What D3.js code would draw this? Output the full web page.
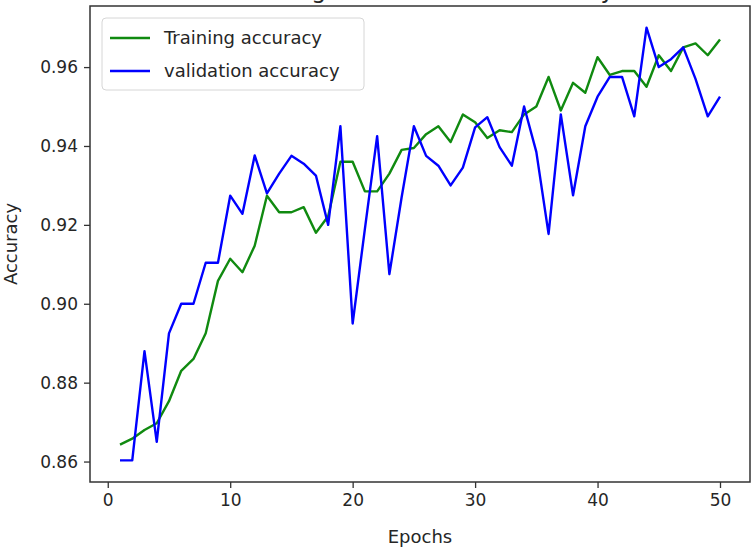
<!DOCTYPE html>
<html lang="en">
    <head>
        <meta charset="utf-8">
        <title>Training and validation accuracy</title>
        <script src="https://d3js.org/d3.v7.min.js"></script>
        <style type="text/css">
            body { margin: 0; background: white; }
            svg text { font-family: "DejaVu Sans", sans-serif; fill: #262626; }
        </style>
    </head>
    <body>
        <svg width="753" height="553"></svg>
        <script type="text/javascript">

            const epochs = d3.range(1, 51);
            const trainAcc = [0.8643, 0.8658, 0.8680, 0.8697, 0.8753, 0.8830, 0.8860, 0.8925, 0.9058, 0.9114,
                              0.9080, 0.9147, 0.9274, 0.9232, 0.9232, 0.9245, 0.9180, 0.9222, 0.9360, 0.9360,
                              0.9285, 0.9285, 0.9330, 0.9390, 0.9395, 0.9430, 0.9450, 0.9410, 0.9480, 0.9460,
                              0.9420, 0.9440, 0.9435, 0.9480, 0.9500, 0.9575, 0.9490, 0.9560, 0.9535, 0.9625,
                              0.9580, 0.9590, 0.9590, 0.9550, 0.9630, 0.9590, 0.9650, 0.9660, 0.9630, 0.9670];
            const valAcc = [0.8603, 0.8603, 0.8880, 0.8650, 0.8925, 0.9000, 0.9000, 0.9104, 0.9104, 0.9274,
                            0.9228, 0.9376, 0.9280, 0.9330, 0.9375, 0.9355, 0.9325, 0.9200, 0.9450, 0.8950,
                            0.9190, 0.9425, 0.9075, 0.9270, 0.9450, 0.9375, 0.9350, 0.9300, 0.9345, 0.9447,
                            0.9473, 0.9397, 0.9350, 0.9500, 0.9385, 0.9177, 0.9480, 0.9275, 0.9450, 0.9525,
                            0.9575, 0.9575, 0.9475, 0.9700, 0.9600, 0.9620, 0.9650, 0.9570, 0.9475, 0.9525];
            const xTicks = [0, 10, 20, 30, 40, 50];
            const yTicks = [0.86, 0.88, 0.90, 0.92, 0.94, 0.96];
            const seriesNames = ["Training accuracy", "validation accuracy"];
            const seriesColors = ["#108a10", "#0000ff"];

            const svg = d3.select("svg");
            const plotL = 90, plotR = 750, plotT = 6, plotB = 482;

            // matplotlib-style 5% margins
            const xPad = (50 - 1) * 0.05;
            const x = d3.scaleLinear().domain([1 - xPad, 50 + xPad]).range([plotL, plotR]);
            const lo = d3.min(valAcc.concat(trainAcc)), hi = d3.max(valAcc.concat(trainAcc));
            const yPad = (hi - lo) * 0.05;
            const y = d3.scaleLinear().domain([lo - yPad, hi + yPad]).range([plotB, plotT]);

            // title, mostly above the visible area (cropped in the original too)
            svg.append("text")
               .attr("x", (plotL + plotR) / 2 + 4)
               .attr("y", -2)
               .attr("text-anchor", "middle")
               .style("font-size", "23.5px")
               .text("Training and validation accuracy");

            const xAxis = svg.append("g")
                             .attr("transform", `translate(0,${plotB})`)
                             .call(d3.axisBottom(x).tickValues(xTicks).tickSize(6).tickPadding(6).tickFormat(d3.format("d")));
            const yAxis = svg.append("g")
                             .attr("transform", `translate(${plotL},0)`)
                             .call(d3.axisLeft(y).tickValues(yTicks).tickSize(6).tickPadding(6).tickFormat(d3.format(".2f")));

            [xAxis, yAxis].forEach(a => {
                a.select(".domain").remove();
                a.selectAll("line").attr("stroke", "#333").attr("stroke-width", 1.3);
                a.selectAll("text").style("font-size", "17px").attr("fill", "#262626");
            });

            svg.append("text")
               .attr("x", (plotL + plotR) / 2)
               .attr("y", 543)
               .attr("text-anchor", "middle")
               .style("font-size", "18px")
               .text("Epochs");

            svg.append("text")
               .attr("transform", `translate(17,${(plotT + plotB) / 2}) rotate(-90)`)
               .attr("text-anchor", "middle")
               .style("font-size", "18px")
               .text("Accuracy");

            const line = d3.line()
                           .x((d, i) => x(epochs[i]))
                           .y(d => y(d));

            [trainAcc, valAcc].forEach((s, i) => {
                svg.append("path")
                   .datum(s)
                   .attr("d", line)
                   .attr("fill", "none")
                   .attr("stroke", seriesColors[i])
                   .attr("stroke-width", 2.4)
                   .attr("stroke-linejoin", "round");
            });

            // frame
            svg.append("rect")
               .attr("x", plotL).attr("y", plotT)
               .attr("width", plotR - plotL).attr("height", plotB - plotT)
               .attr("fill", "none")
               .attr("stroke", "#333")
               .attr("stroke-width", 1.5);

            // legend
            const legend = svg.append("g").attr("transform", "translate(102,18)");
            legend.append("rect")
                  .attr("width", 262).attr("height", 72)
                  .attr("rx", 4)
                  .attr("fill", "white").attr("fill-opacity", 0.8)
                  .attr("stroke", "#d6d6d6");
            seriesNames.forEach((name, i) => {
                const ly = 20 + i * 33;
                legend.append("line")
                      .attr("x1", 8).attr("x2", 48)
                      .attr("y1", ly).attr("y2", ly)
                      .attr("stroke", seriesColors[i])
                      .attr("stroke-width", 2.4);
                legend.append("text")
                      .attr("x", 62).attr("y", ly + 6)
                      .style("font-size", "18px")
                      .text(name);
            });

        </script>
    </body>
</html>
